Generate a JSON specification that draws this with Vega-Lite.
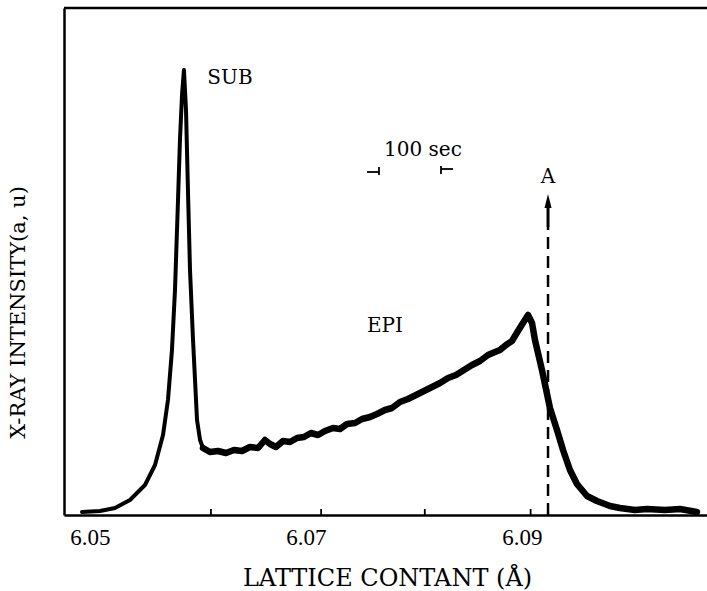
{
  "$schema": "https://vega.github.io/schema/vega-lite/v6.json",
  "width": 643,
  "height": 507,
  "autosize": {"type": "none"},
  "padding": {"left": 64, "top": 8, "right": 0, "bottom": 76},
  "background": "white",
  "config": {
    "view": {"stroke": null},
    "font": "DejaVu Serif"
  },
  "datasets": {
    "trace": [
      {"lattice": 6.04926, "intensity": 3},
      {"lattice": 6.05093, "intensity": 4},
      {"lattice": 6.05231, "intensity": 7},
      {"lattice": 6.05370, "intensity": 15},
      {"lattice": 6.05509, "intensity": 30},
      {"lattice": 6.05602, "intensity": 50},
      {"lattice": 6.05676, "intensity": 80},
      {"lattice": 6.05722, "intensity": 115},
      {"lattice": 6.05759, "intensity": 165},
      {"lattice": 6.05787, "intensity": 225},
      {"lattice": 6.05815, "intensity": 315},
      {"lattice": 6.05833, "intensity": 375},
      {"lattice": 6.05852, "intensity": 420},
      {"lattice": 6.05870, "intensity": 445},
      {"lattice": 6.05889, "intensity": 405},
      {"lattice": 6.05907, "intensity": 325},
      {"lattice": 6.05926, "intensity": 245},
      {"lattice": 6.05954, "intensity": 175},
      {"lattice": 6.05991, "intensity": 95},
      {"lattice": 6.06019, "intensity": 75},
      {"lattice": 6.06046, "intensity": 67},
      {"lattice": 6.06111, "intensity": 63},
      {"lattice": 6.06185, "intensity": 64},
      {"lattice": 6.06259, "intensity": 62},
      {"lattice": 6.06333, "intensity": 65},
      {"lattice": 6.06407, "intensity": 64},
      {"lattice": 6.06481, "intensity": 68},
      {"lattice": 6.06556, "intensity": 67},
      {"lattice": 6.06620, "intensity": 75},
      {"lattice": 6.06667, "intensity": 71},
      {"lattice": 6.06722, "intensity": 68},
      {"lattice": 6.06787, "intensity": 74},
      {"lattice": 6.06852, "intensity": 73},
      {"lattice": 6.06917, "intensity": 77},
      {"lattice": 6.06981, "intensity": 78},
      {"lattice": 6.07046, "intensity": 82},
      {"lattice": 6.07111, "intensity": 80},
      {"lattice": 6.07176, "intensity": 84},
      {"lattice": 6.07250, "intensity": 87},
      {"lattice": 6.07315, "intensity": 86},
      {"lattice": 6.07380, "intensity": 91},
      {"lattice": 6.07454, "intensity": 92},
      {"lattice": 6.07519, "intensity": 96},
      {"lattice": 6.07593, "intensity": 98},
      {"lattice": 6.07657, "intensity": 101},
      {"lattice": 6.07731, "intensity": 105},
      {"lattice": 6.07796, "intensity": 107},
      {"lattice": 6.07870, "intensity": 113},
      {"lattice": 6.07944, "intensity": 116},
      {"lattice": 6.08019, "intensity": 120},
      {"lattice": 6.08093, "intensity": 124},
      {"lattice": 6.08167, "intensity": 128},
      {"lattice": 6.08241, "intensity": 132},
      {"lattice": 6.08315, "intensity": 137},
      {"lattice": 6.08389, "intensity": 140},
      {"lattice": 6.08463, "intensity": 145},
      {"lattice": 6.08537, "intensity": 150},
      {"lattice": 6.08611, "intensity": 154},
      {"lattice": 6.08685, "intensity": 160},
      {"lattice": 6.08750, "intensity": 163},
      {"lattice": 6.08796, "intensity": 165},
      {"lattice": 6.08852, "intensity": 170},
      {"lattice": 6.08907, "intensity": 174},
      {"lattice": 6.08963, "intensity": 184},
      {"lattice": 6.09009, "intensity": 192},
      {"lattice": 6.09056, "intensity": 200},
      {"lattice": 6.09093, "intensity": 192},
      {"lattice": 6.09120, "intensity": 175},
      {"lattice": 6.09185, "intensity": 145},
      {"lattice": 6.09259, "intensity": 107},
      {"lattice": 6.09324, "intensity": 85},
      {"lattice": 6.09380, "intensity": 65},
      {"lattice": 6.09444, "intensity": 45},
      {"lattice": 6.09509, "intensity": 31},
      {"lattice": 6.09602, "intensity": 19},
      {"lattice": 6.09694, "intensity": 14},
      {"lattice": 6.09815, "intensity": 9},
      {"lattice": 6.09907, "intensity": 7},
      {"lattice": 6.10046, "intensity": 5},
      {"lattice": 6.10157, "intensity": 6},
      {"lattice": 6.10324, "intensity": 5},
      {"lattice": 6.10463, "intensity": 6},
      {"lattice": 6.10620, "intensity": 3}
    ]
  },
  "layer": [
    {
      "data": {"name": "trace"},
      "mark": {"type": "line", "color": "black", "strokeWidth": 4, "strokeJoin": "round", "strokeCap": "round", "clip": true},
      "encoding": {
        "x": {
          "field": "lattice", "type": "quantitative",
          "scale": {"domain": [6.047593, 6.10713], "nice": false, "zero": false},
          "axis": {
            "title": "LATTICE CONTANT (Å)",
            "titleFont": "DejaVu Serif", "titleFontSize": 24, "titleFontWeight": "normal", "titleColor": "black",
            "titleX": 323, "titleY": 63, "titleAlign": "center", "titleBaseline": "middle",
            "values": [6.05, 6.07, 6.09],
            "format": ".2f",
            "labelFont": "Liberation Serif", "labelFontSize": 23, "labelColor": "black",
            "labelPadding": 11, "labelBaseline": "top",
            "ticks": false,
            "domain": true, "domainColor": "black", "domainWidth": 2.5,
            "grid": false
          }
        },
        "y": {
          "field": "intensity", "type": "quantitative",
          "scale": {"domain": [0, 507], "nice": false},
          "axis": {
            "title": "X-RAY INTENSITY(a, u)",
            "titleFont": "DejaVu Serif", "titleFontSize": 21, "titleFontWeight": "normal", "titleColor": "black",
            "titleX": -46, "titleY": 304, "titleAngle": -90, "titleAlign": "center", "titleBaseline": "middle",
            "labels": false, "ticks": false, "grid": false,
            "domain": true, "domainColor": "black", "domainWidth": 2.5
          }
        }
      }
    },
    {
      "data": {"name": "trace"},
      "transform": [{"filter": "datum.lattice >= 6.0604"}],
      "mark": {"type": "line", "color": "black", "strokeWidth": 6.5, "strokeJoin": "round", "strokeCap": "round", "clip": true},
      "encoding": {
        "x": {"field": "lattice", "type": "quantitative"},
        "y": {"field": "intensity", "type": "quantitative"}
      }
    },
    {
      "data": {"values": [
        {"tick": 6.0612, "y": 0, "y2": 6},
        {"tick": 6.0714, "y": 0, "y2": 6},
        {"tick": 6.0810, "y": 0, "y2": 6},
        {"tick": 6.0908, "y": 0, "y2": 6}
      ]},
      "mark": {"type": "rule", "color": "black", "strokeWidth": 1.8},
      "encoding": {
        "x": {"field": "tick", "type": "quantitative"},
        "y": {"field": "y", "type": "quantitative"},
        "y2": {"field": "y2"}
      }
    },
    {
      "data": {"values": [{"top": 507}]},
      "mark": {"type": "rule", "color": "black", "strokeWidth": 2.5},
      "encoding": {"y": {"field": "top", "type": "quantitative"}}
    },
    {
      "data": {"values": [{"x": 6.09241, "y": 0, "y2": 288}]},
      "mark": {"type": "rule", "color": "black", "strokeWidth": 2.5, "strokeDash": [12, 7]},
      "encoding": {
        "x": {"field": "x", "type": "quantitative"},
        "y": {"field": "y", "type": "quantitative"},
        "y2": {"field": "y2"}
      }
    },
    {
      "data": {"values": [{"x": 6.09241, "y": 288, "y2": 308}]},
      "mark": {"type": "rule", "color": "black", "strokeWidth": 3},
      "encoding": {
        "x": {"field": "x", "type": "quantitative"},
        "y": {"field": "y", "type": "quantitative"},
        "y2": {"field": "y2"}
      }
    },
    {
      "data": {"values": [{"x": 6.09241, "y": 314}]},
      "mark": {"type": "point", "filled": true, "color": "black", "opacity": 1, "shape": "M0,-1L0.5,1L-0.5,1Z", "size": 200},
      "encoding": {
        "x": {"field": "x", "type": "quantitative"},
        "y": {"field": "y", "type": "quantitative"}
      }
    },
    {
      "data": {"values": [
        {"x": 6.07565, "x2": 6.07676, "y": 343, "y2": 343},
        {"x": 6.07676, "x2": 6.07676, "y": 348, "y2": 340},
        {"x": 6.08250, "x2": 6.08250, "y": 349, "y2": 341},
        {"x": 6.08250, "x2": 6.08361, "y": 346, "y2": 346}
      ]},
      "mark": {"type": "rule", "color": "black", "strokeWidth": 1.8},
      "encoding": {
        "x": {"field": "x", "type": "quantitative"},
        "x2": {"field": "x2"},
        "y": {"field": "y", "type": "quantitative"},
        "y2": {"field": "y2"}
      }
    },
    {
      "data": {"values": [
        {"label": "SUB", "x": 6.06296, "y": 437},
        {"label": "100 sec", "x": 6.08083, "y": 365},
        {"label": "A", "x": 6.09241, "y": 338},
        {"label": "EPI", "x": 6.07731, "y": 189}
      ]},
      "mark": {"type": "text", "font": "DejaVu Serif", "fontSize": 20, "color": "black", "align": "center", "baseline": "middle"},
      "encoding": {
        "x": {"field": "x", "type": "quantitative"},
        "y": {"field": "y", "type": "quantitative"},
        "text": {"field": "label"}
      }
    }
  ]
}
